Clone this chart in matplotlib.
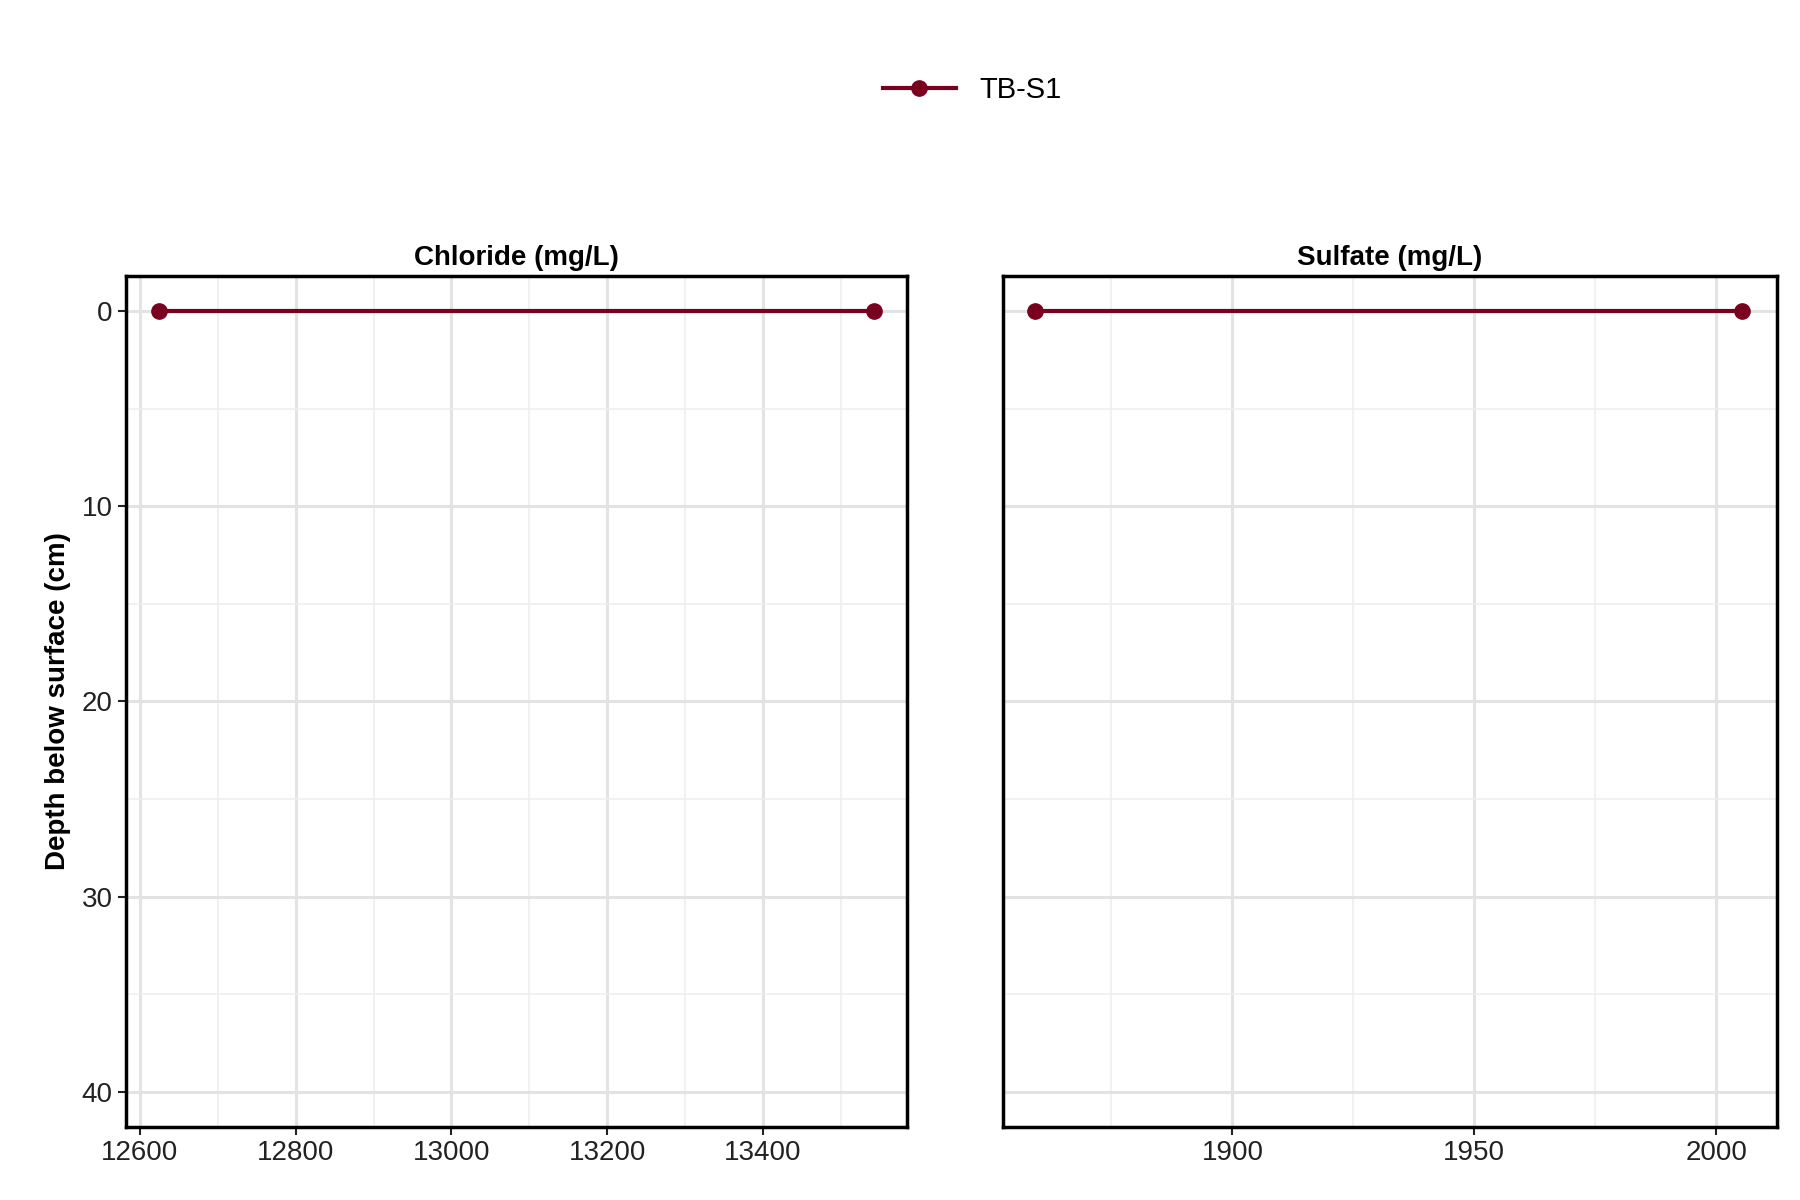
import matplotlib
matplotlib.use("Agg")
import matplotlib.pyplot as plt
from matplotlib.ticker import MultipleLocator

depth = [0, 0]
chloride = [12625, 13542]
sulfate = [1859.3, 2005.4]
series_name = "TB-S1"
titles = ["Chloride (mg/L)", "Sulfate (mg/L)"]
color = "#7a0020"

plt.rcParams['font.family'] = ['Liberation Sans', 'DejaVu Sans']
fig = plt.figure(figsize=(18, 12), dpi=100)
ax1 = fig.add_axes([0.0699, 0.061, 0.4341, 0.709])
ax2 = fig.add_axes([0.557, 0.061, 0.430, 0.709])

specs = [(ax1, chloride, (12582, 13585), 200, 100),
         (ax2, sulfate, (1852.5, 2012.5), 50, 25)]
for i, (ax, vals, xl, maj, mnr) in enumerate(specs):
    line, = ax.plot(vals, depth, color=color, lw=3, marker='o', ms=11, label=series_name, zorder=3)
    ax.set_xlim(*xl)
    ax.set_ylim(41.8, -1.8)
    ax.xaxis.set_major_locator(MultipleLocator(maj))
    ax.xaxis.set_minor_locator(MultipleLocator(mnr))
    ax.yaxis.set_major_locator(MultipleLocator(10))
    ax.yaxis.set_minor_locator(MultipleLocator(5))
    ax.grid(which='major', color='#e3e3e3', lw=2.2)
    ax.grid(which='minor', color='#eeeeee', lw=1.1)
    ax.set_axisbelow(True)
    for s in ax.spines.values():
        s.set_linewidth(2.5)
        s.set_color('black')
    ax.tick_params(which='minor', length=0)
    ax.tick_params(which='major', labelsize=20, length=6, width=1.5, colors='#222222')
    ax.set_title(titles[i], fontsize=20, fontweight='bold', pad=8)
    if i == 1:
        ax.tick_params(axis='y', left=False, labelleft=False)

ax1.set_ylabel("Depth below surface (cm)", fontsize=20, fontweight='bold', labelpad=8)
fig.legend(handles=[line], loc='center', bbox_to_anchor=(0.54, 0.925), frameon=False,
           fontsize=21, handlelength=2.5)
fig.savefig("out.png", dpi=100)
